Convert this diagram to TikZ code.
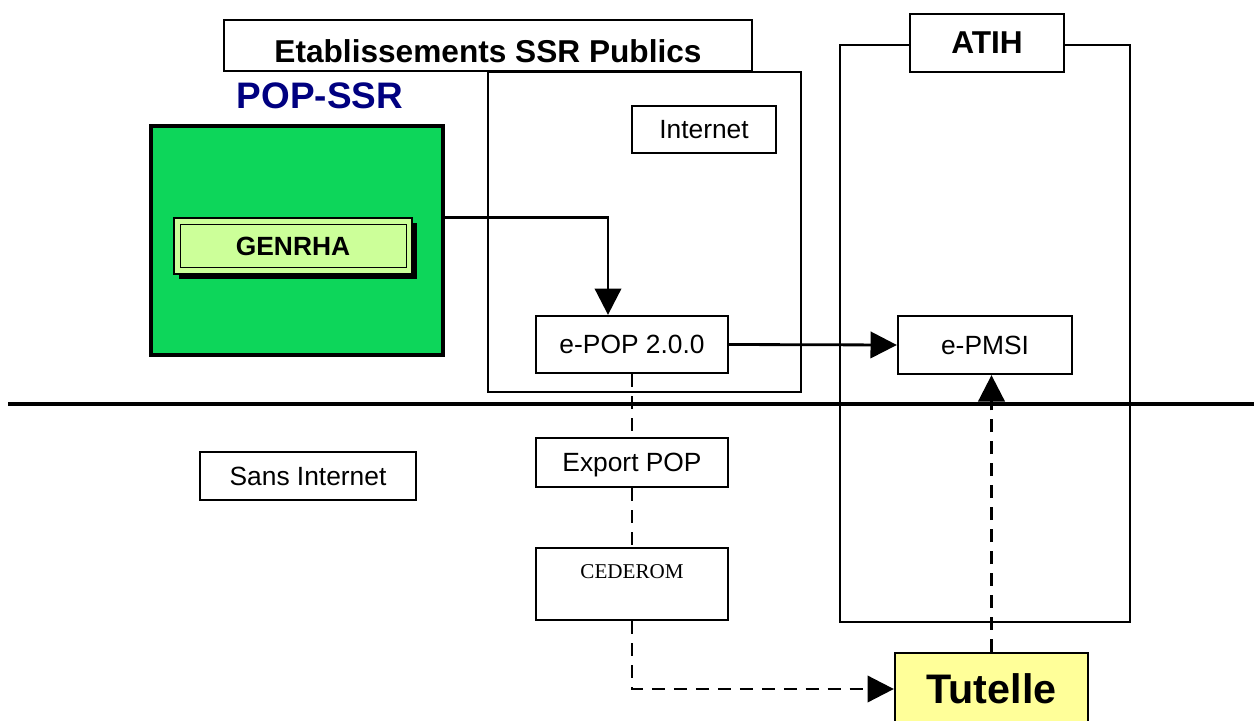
\documentclass[tikz,border=0pt]{standalone}
\usepackage{fontspec}
\setmainfont{Liberation Sans}
\newfontfamily\seriffont{Liberation Serif}
\usetikzlibrary{arrows.meta,shadows}
\definecolor{popgreen}{RGB}{13,214,90}
\definecolor{genrhagreen}{RGB}{204,255,153}
\definecolor{tutelleyellow}{RGB}{255,255,153}
\definecolor{popblue}{RGB}{0,0,128}
\begin{document}
\begin{tikzpicture}[x=0.02cm,y=-0.02cm,
    box/.style={draw,line width=1.3pt,inner sep=0pt,font=\fontsize{15}{18}\selectfont},
    size/.style 2 args={minimum width=#1*0.02cm,minimum height=#2*0.02cm},
    conn/.style={line width=1.6pt,-{Triangle[length=15pt,width=15pt]}},
    dashconn/.style={line width=1.6pt,dash pattern=on 7.5pt off 5pt}]
    \useasboundingbox (0,0) rectangle (1254,720);

    % etablissements side
    \node[box,size={528}{51},font=\bfseries\fontsize{18}{20}\selectfont,
          text height=19.5pt,text depth=0pt] (etab) at (488,45.5) {Etablissements SSR Publics};
    \node[box,size={313}{320}] (internetzone) at (644.5,232) {};
    \node[box,size={144}{47},text depth=0pt] (internet) at (704,129.5) {Internet};
    \node[text=popblue,font=\bfseries\fontsize{21}{24}\selectfont] (popssr) at (320,96) {POP-SSR};

    \node[box,size={292}{229},fill=popgreen,line width=1.8pt] (popbox) at (297,240.5) {};
    \node[box,size={238}{56},fill=genrhagreen,line width=0.7pt,font=\bfseries\fontsize{15}{18}\selectfont,
          drop shadow={shadow xshift=0.1cm,shadow yshift=-0.1cm,fill=black,opacity=1}] (genrha) at (293,246) {GENRHA};
    \draw[line width=0.7pt] ([shift={(7,7)}]genrha.north west) rectangle ([shift={(-6,-7)}]genrha.south east);

    \node[box,size={192}{57},fill=white] (epop) at (632,344.5) {e-POP 2.0.0};

    % atih side
    \node[box,size={290}{577}] (atihzone) at (985,333.5) {};
    \node[box,size={154}{58},fill=white,font=\bfseries\fontsize{18}{20}\selectfont] (atih) at (987,43) {ATIH};
    \node[box,size={174}{58}] (epmsi) at (985,345) {e-PMSI};

    % separation internet / sans internet
    \draw[line width=2.4pt] (8,404) -- (1254,404);

    \node[box,size={216}{48}] (sansinternet) at (308,476) {Sans Internet};
    \node[box,size={192}{49},text depth=0pt] (export) at (632,462.5) {Export POP};
    \node[box,size={192}{72},font=\seriffont\fontsize{12}{14}\selectfont,
          text height=8pt,text depth=13.7pt] (cederom) at (632,584) {CEDEROM};
    \node[box,size={193}{72},fill=tutelleyellow,font=\bfseries\fontsize{23.5}{26}\selectfont] (tutelle) at (991.5,689) {Tutelle};

    % liaisons
    \draw[conn] (genrha.north -| popbox.east) -| ([xshift=-0.48cm]epop.north);
    \draw[conn] (epop.east) -- (epmsi.west);
    \draw[dashconn] (epop.south) -- (export.north);
    \draw[dashconn] (export.south) -- (cederom.north);
    \draw[dashconn,-{Triangle[length=15pt,width=15pt]}] (cederom.south) |- (tutelle.west);
    \draw[dashconn,-{Triangle[length=15pt,width=15pt]}] (tutelle.north) -- (tutelle.north |- epmsi.south);

\end{tikzpicture}
\end{document}
